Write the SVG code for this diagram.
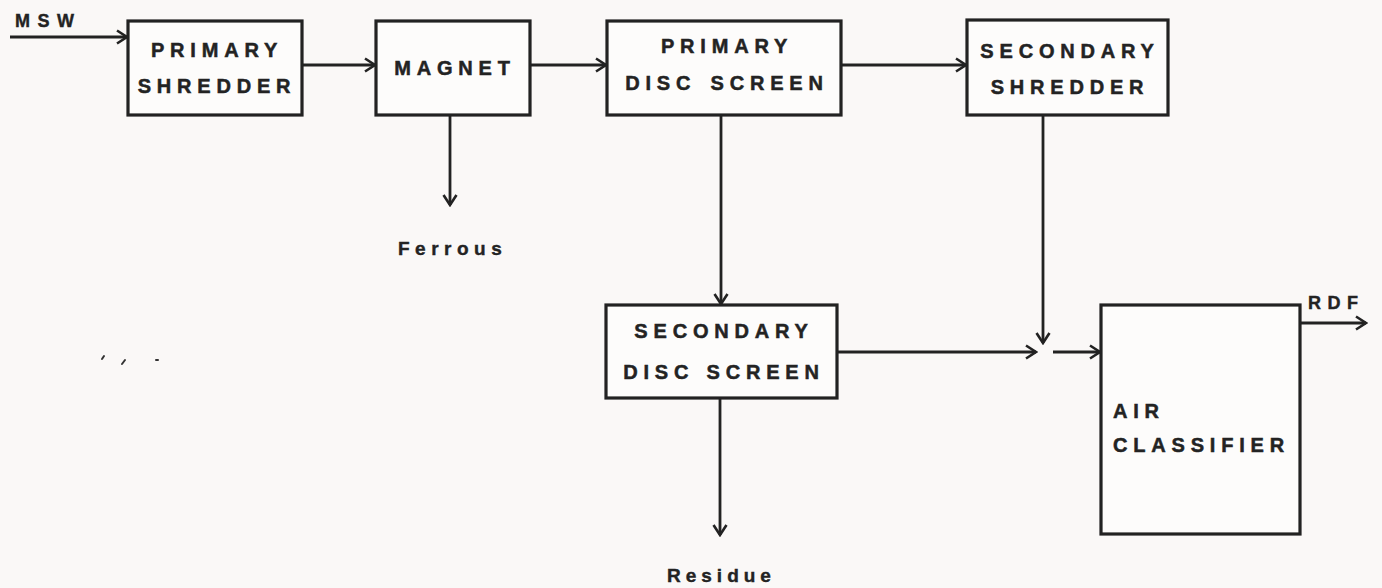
<svg xmlns="http://www.w3.org/2000/svg" width="1382" height="588" viewBox="0 0 1382 588">
<defs>
<marker id="ah" markerWidth="14" markerHeight="16" refX="12" refY="8" orient="auto" markerUnits="userSpaceOnUse">
<path d="M2,1.5 L12,8 L2,14.5" fill="none" stroke="#222" stroke-width="2.6" stroke-linejoin="miter"/>
</marker>
<style>
.box{fill:#fdfcfb;stroke:#222;stroke-width:3.2}
.lbl{font-family:"Liberation Sans",Arial,sans-serif;font-weight:bold;font-size:20px;fill:#232323;stroke:#232323;stroke-width:0.5;letter-spacing:5.8px}
.sm{font-family:"Liberation Sans",Arial,sans-serif;font-weight:bold;font-size:19px;fill:#232323;stroke:#232323;stroke-width:0.4;letter-spacing:5px}
.ln{fill:none;stroke:#222;stroke-width:2.8}
</style>
</defs>
<rect width="1382" height="588" fill="#faf8f7"/>
<g id="connectors">
<line class="ln" x1="10" y1="37" x2="127" y2="37" marker-end="url(#ah)"/>
<line class="ln" x1="302" y1="65" x2="375" y2="65" marker-end="url(#ah)"/>
<line class="ln" x1="530" y1="65" x2="606" y2="65" marker-end="url(#ah)"/>
<line class="ln" x1="841" y1="65" x2="966" y2="65" marker-end="url(#ah)"/>
<line class="ln" x1="450" y1="115" x2="450" y2="205" marker-end="url(#ah)"/>
<line class="ln" x1="721" y1="115" x2="721" y2="304" marker-end="url(#ah)"/>
<line class="ln" x1="1043" y1="115" x2="1043" y2="343" marker-end="url(#ah)"/>
<line class="ln" x1="837" y1="352" x2="1036" y2="352" marker-end="url(#ah)"/>
<line class="ln" x1="1053" y1="352" x2="1100" y2="352" marker-end="url(#ah)"/>
<line class="ln" x1="1300" y1="323" x2="1366" y2="323" marker-end="url(#ah)"/>
<line class="ln" x1="720" y1="398" x2="720" y2="535" marker-end="url(#ah)"/>
</g>
<g id="msw"><text class="sm" x="15" y="27" style="font-size:18px;letter-spacing:7.5px">MSW</text></g>
<g id="primary-shredder">
<rect class="box" x="128" y="21" width="174" height="94"/>
<text class="lbl" x="217" y="57" text-anchor="middle">PRIMARY</text>
<text class="lbl" x="217" y="93" text-anchor="middle">SHREDDER</text>
</g>
<g id="magnet">
<rect class="box" x="376" y="21" width="154" height="94"/>
<text class="lbl" x="455" y="75" text-anchor="middle">MAGNET</text>
</g>
<g id="primary-disc-screen">
<rect class="box" x="607" y="21" width="234" height="94"/>
<text class="lbl" x="727" y="53" text-anchor="middle">PRIMARY</text>
<text class="lbl" x="727" y="90" text-anchor="middle" style="word-spacing:3px">DISC SCREEN</text>
</g>
<g id="secondary-shredder">
<rect class="box" x="967" y="20" width="201" height="95"/>
<text class="lbl" x="1070" y="58" text-anchor="middle">SECONDARY</text>
<text class="lbl" x="1070" y="94" text-anchor="middle">SHREDDER</text>
</g>
<g id="ferrous"><text class="sm" x="398" y="255" style="letter-spacing:5.5px">Ferrous</text></g>
<g id="secondary-disc-screen">
<rect class="box" x="606" y="305" width="231" height="93"/>
<text class="lbl" x="724" y="338" text-anchor="middle">SECONDARY</text>
<text class="lbl" x="724" y="379" text-anchor="middle" style="word-spacing:1px">DISC SCREEN</text>
</g>
<g id="air-classifier">
<rect class="box" x="1101" y="305" width="199" height="229"/>
<text class="lbl" x="1113" y="418">AIR</text>
<text class="lbl" x="1113" y="452">CLASSIFIER</text>
</g>
<g id="rdf"><text class="sm" x="1308" y="309" style="font-size:18px;letter-spacing:6.5px">RDF</text></g>
<g id="residue"><text class="sm" x="667" y="582">Residue</text></g>
<g id="marks" stroke="#333" stroke-width="2" stroke-linecap="round">
<line x1="102" y1="359" x2="104" y2="356"/>
<line x1="122" y1="364" x2="125" y2="360"/>
<line x1="156" y1="360" x2="158" y2="360"/>
</g>
</svg>
